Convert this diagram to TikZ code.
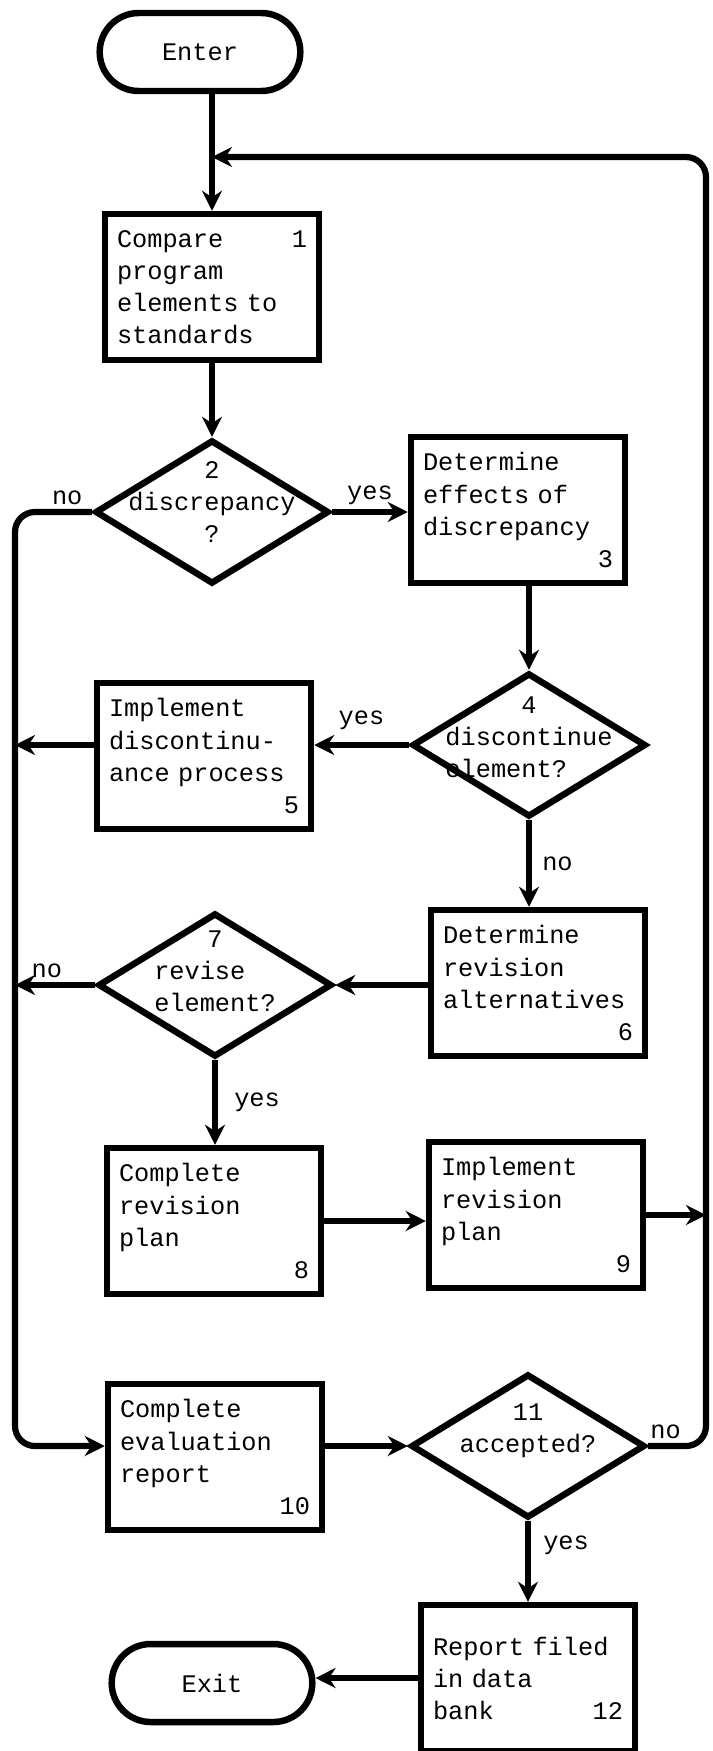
\documentclass[tikz,border=0pt]{standalone}
\usepackage{fontspec}
\setmonofont[WordSpace={1,0,0}]{Liberation Mono}
\usepackage{tikz}
\usetikzlibrary{arrows.meta,shapes.geometric,shapes.misc}

\newcommand{\flowfont}{\ttfamily\fontsize{18pt}{22.8pt}\selectfont}

\begin{document}
\begin{tikzpicture}[
    box/.style={draw, line width=4.6pt, minimum width=5.35cm, minimum height=3.65cm, text width=4.75cm, inner xsep=0.3cm, align=left, font=\flowfont},
    decision/.style={draw, diamond, line width=4.6pt, minimum width=5.85cm, minimum height=3.6cm, inner sep=0pt},
    dtext/.style={font=\flowfont, align=center},
    terminal/.style={draw, rounded rectangle, line width=4.6pt, minimum width=5.25cm, minimum height=1.95cm, font=\flowfont},
    arrow/.style={-{Stealth[length=0.5cm, width=0.5cm]}, line width=4.4pt},
    bus/.style={-{Stealth[length=0.5cm, width=0.5cm]}, line width=4.4pt, rounded corners=0.5cm},
    lbl/.style={font=\flowfont, inner sep=3pt}
  ]
    \useasboundingbox (0,0) rectangle (17.8,-43.775);

    % side lines
    \coordinate (lbus) at (0.375,0);
    \coordinate (rbus) at (17.65,0);
    \coordinate (join) at (5.3,-3.925);

    \node[terminal] (enter) at (5.0,-1.3) {Enter};
    \node[box] (box1) at (5.3,-7.175) {Compare\hfill 1\hspace*{0.15cm}\\program\\elements to\\standards};
    \node[decision, label={[dtext, yshift=0.25cm]center:{2\\discrepancy\\?}}] (d2) at (5.3,-12.8) {};
    \node[box] (box3) at (12.95,-12.75) {Determine\\effects of\\discrepancy\\\hfill 3\hspace*{0.55cm}};
    \node[decision, label={[dtext, yshift=0.2cm]center:{4\\discontinue\\element?\phantom{xxx}}}] (d4) at (13.225,-18.625) {};
    \node[box] (box5) at (5.1,-18.9) {Implement\\discontinu-\\ance process\\\hfill 5\hspace*{0.45cm}};
    \node[box] (box6) at (13.45,-24.575) {Determine\\revision\\alternatives\\\hfill 6\hspace*{0.75cm}};
    \node[decision, label={[dtext, yshift=0.35cm]center:{7\\revise\phantom{xx}\\element?}}] (d7) at (5.375,-24.625) {};
    \node[box] (box8) at (5.35,-30.525) {Complete\\revision\\plan\\\hfill 8\hspace*{0.75cm}};
    \node[box] (box9) at (13.4,-30.375) {Implement\\revision\\plan\\\hfill 9\hspace*{0.35cm}};
    \node[box] (box10) at (5.375,-36.425) {Complete\\evaluation\\report\\\hfill 10\hspace*{0.45cm}};
    \node[decision, label={[dtext, yshift=0.375cm]center:{11\\accepted?}}] (d11) at (13.2,-36.15) {};
    \node[box] (box12) at (13.2,-41.95) {Report filed\\in data\\bank\hfill 12\hspace*{0.9cm}};
    \node[terminal] (exit) at (5.3,-42.075) {Exit};

    \draw[arrow] (box1 |- enter.south) -- (box1.north);
    \draw[arrow] (box1.south) -- (d2.north);
    \draw[arrow] (d2.east) -- node[lbl, above]{yes} (d2.east -| box3.west);
    \draw[arrow] (d4 |- box3.south) -- (d4.north);
    \draw[arrow] (d4.west) -- node[lbl, above, yshift=0.2cm]{yes} (d4.west -| box5.east);
    \draw[arrow] (box5.west |- d4) -- (lbus |- d4);
    \draw[arrow] (d4.south) -- node[lbl, right, xshift=0.15cm]{no} (d4 |- box6.north);
    \draw[arrow] (d7.east -| box6.west) -- (d7.east);
    \draw[arrow] (d7.west) -- node[lbl, above, pos=0.6]{no} (lbus |- d7);
    \draw[arrow] (d7.south) -- node[lbl, right, xshift=0.3cm]{yes} (d7 |- box8.north);
    \draw[arrow] (box8.east) -- (box8.east -| box9.west);
    \draw[arrow] (box9.east) -- (rbus |- box9.east);
    \draw[arrow] (box10.east |- d11) -- (d11.west);
    \draw[arrow] (d11.south) -- node[lbl, right, pos=0.3, xshift=0.2cm]{yes} (box12.north);
    \draw[arrow] (box12.west) -- (box12.west -| exit.east);

    % no discrepancy: down the left side to the report
    \draw[bus] (d2.west) -- node[lbl, above, pos=0.32]{no} (lbus |- d2.west) -- (lbus |- d11) -- (box10.west |- d11);
    % not accepted: back up the right side
    \draw[bus] (d11.east) -- node[lbl, above, pos=0.3]{no} (rbus |- d11) -- (rbus |- join) -- (join);
\end{tikzpicture}
\end{document}
